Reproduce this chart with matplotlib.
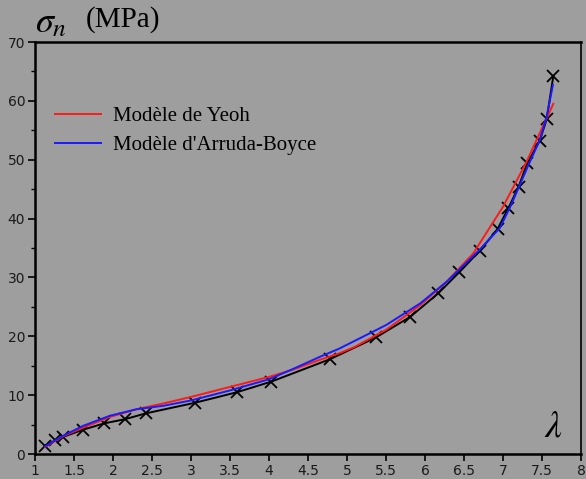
import matplotlib
matplotlib.use("Agg")
import matplotlib.pyplot as plt
from matplotlib.ticker import MultipleLocator

plt.rcParams["mathtext.fontset"] = "stix"

# Experimental points (stretch ratio, nominal stress in MPa)
lam_exp = [1.13, 1.26, 1.36, 1.61, 1.885, 2.15, 2.42, 3.05, 3.59, 4.03, 4.78,
           5.37, 5.81, 6.17, 6.44, 6.70, 6.93, 7.07, 7.20, 7.31, 7.47, 7.56, 7.645]
sig_exp = [1.4, 2.3, 2.9, 4.1, 5.2, 5.9, 6.9, 8.7, 10.5, 12.3, 16.1,
           19.8, 23.3, 27.3, 30.9, 34.5, 38.2, 41.8, 45.4, 49.4, 53.2, 56.9, 64.2]

# Yeoh model
lam_yeoh = [1.13, 1.36, 1.62, 1.96, 2.30, 2.65, 3.0, 3.5, 4.0, 4.3, 4.65, 4.9,
            5.1, 5.5, 5.94, 6.28, 6.62, 7.0, 7.3, 7.645]
sig_yeoh = [1.2, 3.0, 4.5, 6.3, 7.6, 8.6, 9.7, 11.4, 13.1, 14.3, 16.0, 17.1,
            18.2, 21.1, 25.3, 29.3, 34.1, 42.0, 49.6, 59.5]

# Arruda-Boyce model
lam_ab = [1.13, 1.36, 1.62, 1.96, 2.30, 2.65, 3.0, 3.5, 4.0, 4.3, 4.65, 4.9,
          5.08, 5.5, 5.94, 6.28, 6.7, 6.96, 7.1, 7.32, 7.47, 7.56, 7.64]
sig_ab = [1.3, 3.1, 4.8, 6.5, 7.6, 8.2, 9.1, 10.8, 12.7, 14.4, 16.5, 17.9,
          19.1, 21.9, 25.6, 29.3, 34.7, 38.4, 42.2, 48.9, 53.3, 57.3, 62.7]

bg = "#9e9e9e"
fig = plt.figure(figsize=(5.86, 4.79), dpi=100, facecolor=bg)
ax = fig.add_axes([35 / 586, 25 / 479, 546 / 586, 412 / 479], facecolor=bg)

ax.plot(lam_exp, sig_exp, color="black", lw=1.4, marker="x", ms=9, mew=1.3,
        label="_exp")
ax.plot(lam_yeoh, sig_yeoh, color="#ff1a1a", lw=1.4, label="Modèle de Yeoh")
ax.plot(lam_ab, sig_ab, color="#1a1aff", lw=1.4, label="Modèle d'Arruda-Boyce")

ax.set_xlim(1, 8)
ax.set_ylim(0, 70)
ax.yaxis.set_major_locator(MultipleLocator(10))
ax.yaxis.set_minor_locator(MultipleLocator(5))
ax.set_xticks([1, 1.5, 2, 2.5, 3, 3.5, 4, 4.5, 5, 5.5, 6, 6.5, 7, 7.5, 8])
ax.set_xticklabels(["1", "1.5", "2", "2.5", "3", "3.5", "4", "4.5", "5",
                    "5.5", "6", "6.5", "7", "7.5", "8"])
ax.tick_params(axis="both", which="major", direction="out", length=5,
               width=1.2, labelsize=10, labelcolor="#1a1a1a", pad=2)
ax.tick_params(axis="y", which="minor", direction="out", length=3, width=1.0)
for side in ["left", "bottom", "top"]:
    ax.spines[side].set_linewidth(1.8)
ax.spines["right"].set_linewidth(1.2)

leg = ax.legend(loc="upper left", bbox_to_anchor=(0.0366, 0.843),
                frameon=False,
                prop={"family": "Liberation Serif", "size": 15},
                handlelength=2.2, handletextpad=0.6, labelspacing=0.43,
                borderaxespad=0.0, borderpad=0.0)

fig.text(35 / 586, 1 - 22 / 479, r"$\sigma_n$", fontsize=26, va="center",
         ha="left")
fig.text(86 / 586, 1 - 20 / 479, "(MPa)", fontsize=21, va="center",
         ha="left", family="Liberation Serif")
ax.text(7.65, 1.6, r"$\lambda$", fontsize=27, ha="center", va="bottom")

fig.savefig("out.png", dpi=100, facecolor=bg)
